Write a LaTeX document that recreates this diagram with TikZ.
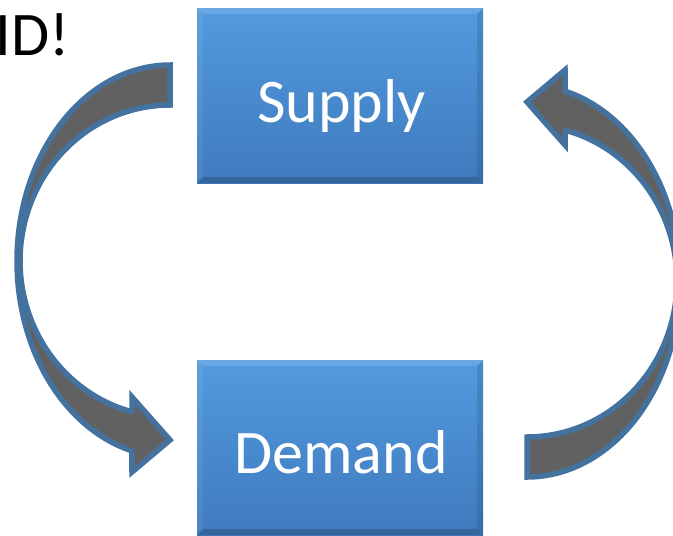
\documentclass[tikz,border=0pt]{standalone}
\usepackage{fontspec}
\setmainfont{Carlito}
\usetikzlibrary{calc,backgrounds}
\definecolor{boxtop}{HTML}{529ADF}
\definecolor{boxbot}{HTML}{3F7ABD}
\definecolor{arrowfill}{HTML}{616161}
\definecolor{arrowline}{HTML}{44729F}
\tikzset{
  box/.style={minimum width=286pt, minimum height=175pt, inner sep=0pt, top color=boxtop, bottom color=boxbot, draw=none},
  lbl/.style={text=white, font=\fontsize{62}{62}\selectfont, anchor=base, inner sep=0pt},
  arrowshape/.style={fill=arrowfill, draw=arrowline, line width=5.5pt, line join=miter},
  bevlight/.style={fill=white, opacity=0.14},
  bevside/.style={fill=white, opacity=0.07},
  bevdark/.style={fill=black, opacity=0.10},
  bevbottom/.style={fill=black, opacity=0.16},
  shadowlayer/.style={fill=black, opacity=0.06},
}
\newcommand{\bevelbox}[1]{%
  \fill[bevlight] (#1.north west) -- (#1.north east) -- ($(#1.north east)+(-6,6)$) -- ($(#1.north west)+(6,6)$) -- cycle;
  \fill[bevside] (#1.north west) -- ($(#1.north west)+(6,6)$) -- ($(#1.south west)+(6,-6)$) -- (#1.south west) -- cycle;
  \fill[bevdark] (#1.north east) -- ($(#1.north east)+(-6,6)$) -- ($(#1.south east)+(-6,-6)$) -- (#1.south east) -- cycle;
  \fill[bevbottom] (#1.south west) -- ($(#1.south west)+(6,-6)$) -- ($(#1.south east)+(-6,-6)$) -- (#1.south east) -- cycle;
  \begin{scope}[on background layer]
    \fill[shadowlayer] ($(#1.south west)+(-1,-4)$) rectangle ($(#1.south east)+(1,2)$);
    \fill[shadowlayer] ($(#1.south west)+(-2,-4)$) rectangle ($(#1.south east)+(2,4)$);
    \fill[shadowlayer] ($(#1.south west)+(-3,-4)$) rectangle ($(#1.south east)+(3,6)$);
  \end{scope}
}
\begin{document}
\begin{tikzpicture}[x=1pt,y=-1pt]
\useasboundingbox (0,0) rectangle (673,536);
\clip (0,0) rectangle (673,536);
\fill[white] (0,0) rectangle (673,536);

% boxes
\node[box] (supply) at (340,95.5) {};
\node[box] (demand) at (340,447.5) {};
\bevelbox{supply}
\bevelbox{demand}
\node[lbl] (supplytext) at (341.5,122) {Supply};
\node[lbl] (demandtext) at (341,473) {Demand};

% top-left text
\node[anchor=base west, inner sep=0pt, font=\fontsize{62}{62}\selectfont] (idtext) at (-4.5,55) {ID!};

% left curved arrow (Supply -> Demand)
\draw[arrowshape]
  plot[domain=270:104.4, samples=60, smooth] ({170+153*cos(\x)},{261+196*sin(\x)})
  -- (132,472) -- (170,440) -- (132,397) -- (132,412.5)
  -- plot[domain=104.7:270, samples=60, smooth] ({170+150*cos(\x)},{261+156*sin(\x)})
  -- cycle;

% right curved arrow (Demand -> Supply), point reflection of the left one
\begin{scope}[rotate around={180:(348.5,271)}]
\draw[arrowshape]
  plot[domain=270:104.4, samples=60, smooth] ({170+153*cos(\x)},{261+196*sin(\x)})
  -- (132,472) -- (170,440) -- (132,397) -- (132,412.5)
  -- plot[domain=104.7:270, samples=60, smooth] ({170+150*cos(\x)},{261+156*sin(\x)})
  -- cycle;
\end{scope}
\end{tikzpicture}
\end{document}
